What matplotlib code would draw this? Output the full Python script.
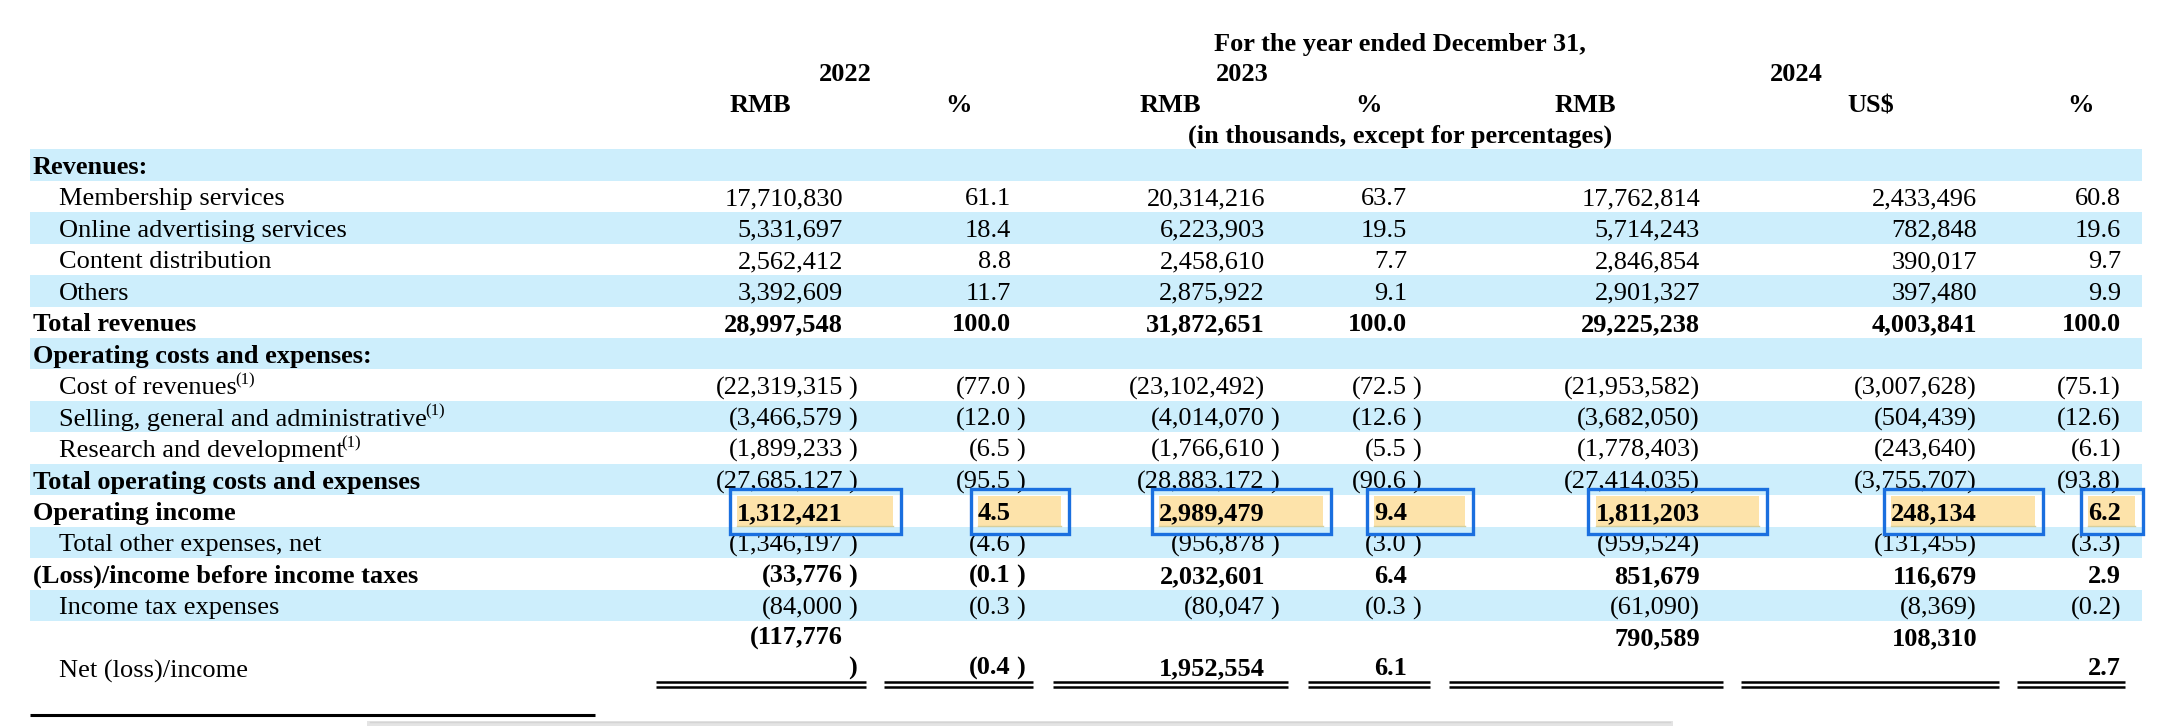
import matplotlib
matplotlib.use("Agg")
import matplotlib.pyplot as plt
from matplotlib.patches import Rectangle

# table content
labels = ["Revenues:", "Membership services", "Online advertising services",
          "Content distribution", "Others", "Total revenues",
          "Operating costs and expenses:", "Cost of revenues",
          "Selling, general and administrative", "Research and development",
          "Total operating costs and expenses", "Operating income",
          "Total other expenses, net", "(Loss)/income before income taxes",
          "Income tax expenses", "Net (loss)/income"]
bold_label = [1, 0, 0, 0, 0, 1, 1, 0, 0, 0, 1, 1, 0, 1, 0, 0]
bold_vals = [0, 0, 0, 0, 0, 1, 0, 0, 0, 0, 0, 1, 0, 1, 0, 1]
footnote = [0, 0, 0, 0, 0, 0, 0, 1, 1, 1, 0, 0, 0, 0, 0, 0]

rmb_2022 = ["", "17,710,830", "5,331,697", "2,562,412", "3,392,609", "28,997,548", "",
            "(22,319,315 )", "(3,466,579 )", "(1,899,233 )", "(27,685,127 )", "1,312,421",
            "(1,346,197 )", "(33,776 )", "(84,000 )"]
pct_2022 = ["", "61.1", "18.4", "8.8", "11.7", "100.0", "",
            "(77.0 )", "(12.0 )", "(6.5 )", "(95.5 )", "4.5", "(4.6 )", "(0.1 )", "(0.3 )"]
rmb_2023 = ["", "20,314,216", "6,223,903", "2,458,610", "2,875,922", "31,872,651", "",
            "(23,102,492)", "(4,014,070 )", "(1,766,610 )", "(28,883,172 )", "2,989,479",
            "(956,878 )", "2,032,601", "(80,047 )"]
pct_2023 = ["", "63.7", "19.5", "7.7", "9.1", "100.0", "",
            "(72.5 )", "(12.6 )", "(5.5 )", "(90.6 )", "9.4", "(3.0 )", "6.4", "(0.3 )"]
rmb_2024 = ["", "17,762,814", "5,714,243", "2,846,854", "2,901,327", "29,225,238", "",
            "(21,953,582)", "(3,682,050)", "(1,778,403)", "(27,414,035)", "1,811,203",
            "(959,524)", "851,679", "(61,090)"]
usd_2024 = ["", "2,433,496", "782,848", "390,017", "397,480", "4,003,841", "",
            "(3,007,628)", "(504,439)", "(243,640)", "(3,755,707)", "248,134",
            "(131,455)", "116,679", "(8,369)"]
pct_2024 = ["", "60.8", "19.6", "9.7", "9.9", "100.0", "",
            "(75.1)", "(12.6)", "(6.1)", "(93.8)", "6.2", "(3.3)", "2.9", "(0.2)"]

# net (loss)/income is wrapped on two lines in the source
net_top = ["(117,776", "", "", "", "790,589", "108,310", ""]
net_bottom = [" )", "(0.4 )", "1,952,554", "6.1", "", "", "2.7"]

years = ["2022", "2023", "2024"]
units = ["RMB", "%", "RMB", "%", "RMB", "US$", "%"]
highlight_row = 11

# layout (pixels)
W, H = 2172, 726
FS = 19
FONT = "Liberation Serif"
BAND = "#cdeefc"
FILL = "#fde3aa"
EDGE = "#1a6fdf"
col_right = [843, 1011, 1265, 1407, 1700, 1977, 2121]
unit_x = [760, 959, 1170, 1368, 1585, 1871, 2081]
year_x = [845, 1242, 1796]
hl_pad = [50, 50, 58, 58, 59, 58, 14]
row_top0, row_h = 149.3, 31.45
band_x0, band_x1 = 30, 2142

fig = plt.figure(figsize=(W / 100, H / 100), dpi=100)
ax = fig.add_axes([0, 0, 1, 1])
ax.set_xlim(0, W)
ax.set_ylim(H, 0)
ax.axis("off")


def txt(x, y, s, ha="left", bold=False, size=FS):
    return ax.text(x, y, s, ha=ha, va="baseline", fontsize=size, family=FONT,
                   fontweight="bold" if bold else "normal", color="black")


def cell(col, y, s, bold):
    if not s:
        return None
    if s.endswith(" )"):
        txt(col_right[col] + 14, y, ")", ha="right", bold=bold)
        s = s[:-2]
        if not s:
            return None
    return txt(col_right[col], y, s, ha="right", bold=bold)


# header
txt(1400, 51, "For the year ended December 31,", ha="center", bold=True)
for x, s in zip(year_x, years):
    txt(x, 81, s, ha="center", bold=True)
for x, s in zip(unit_x, units):
    txt(x, 112, s, ha="center", bold=True)
txt(1400, 143, "(in thousands, except for percentages)", ha="center", bold=True)

columns = [rmb_2022, pct_2022, rmb_2023, pct_2023, rmb_2024, usd_2024, pct_2024]

# striped rows
for i in range(len(labels)):
    top = row_top0 + i * row_h
    h = row_h if i < 15 else 75
    if i % 2 == 0:
        ax.add_patch(Rectangle((band_x0, top), band_x1 - band_x0, h,
                               facecolor=BAND, edgecolor="none", zorder=0))

label_objs = []
hl_texts = []
for i, lab in enumerate(labels[:15]):
    yb = row_top0 + i * row_h + row_h / 2 + 9
    x = 33 if bold_label[i] else 59
    label_objs.append((i, txt(x, yb, lab, bold=bool(bold_label[i])), yb))
    for c, col in enumerate(columns):
        t = cell(c, yb, col[i], bool(bold_vals[i]))
        if i == highlight_row:
            hl_texts.append(t)

# net row
net_lab = txt(59, 678, labels[15])
for c in range(7):
    cell(c, 645, net_top[c], True)
    cell(c, 675, net_bottom[c], True)

# double underlines below the net row
segs = [(656, 866), (884, 1033), (1053, 1288), (1308, 1430), (1449, 1723),
        (1741, 1999), (2017, 2125)]
for x0, x1 in segs:
    for yy in (681.5, 686.5):
        ax.plot([x0, x1], [yy, yy], color="black", lw=1.8, solid_capstyle="butt")

# footnote rule
ax.plot([30, 595], [715, 715], color="black", lw=2.2, solid_capstyle="butt")

# faint grey shadow at the bottom edge
ax.add_patch(Rectangle((367, 721), 1306, 6, facecolor="#e4e4e4", edgecolor="none"))
ax.plot([370, 1670], [721.5, 721.5], color="#d4d4d4", lw=1)

fig.canvas.draw()
r = fig.canvas.get_renderer()
inv = ax.transData.inverted()

# superscript footnote markers
for i, t, yb in label_objs:
    if footnote[i]:
        bb = t.get_window_extent(r)
        x1 = inv.transform((bb.x1, bb.y0))[0]
        txt(x1 - 2, yb - 10, "(1)", size=12)

# highlighted operating income cells
y_top = row_top0 + highlight_row * row_h + 1
for c, t in enumerate(hl_texts):
    bb = t.get_window_extent(r)
    x0 = inv.transform((bb.x0, bb.y0))[0]
    x1 = col_right[c] + hl_pad[c]
    ax.add_patch(Rectangle((x0, y_top), x1 - x0, row_h - 1, facecolor=FILL,
                           edgecolor="none", zorder=1))
    ax.plot([x0, x1], [y_top + row_h - 1.5] * 2, color="#d6cf9c", lw=1, zorder=1)
    ax.add_patch(Rectangle((x0 - 7.5, y_top - 7.5), x1 - x0 + 15, row_h + 14,
                           facecolor="none", edgecolor=EDGE, lw=2.4, zorder=4))
    t.set_zorder(3)

fig.savefig("out.png", dpi=100)
